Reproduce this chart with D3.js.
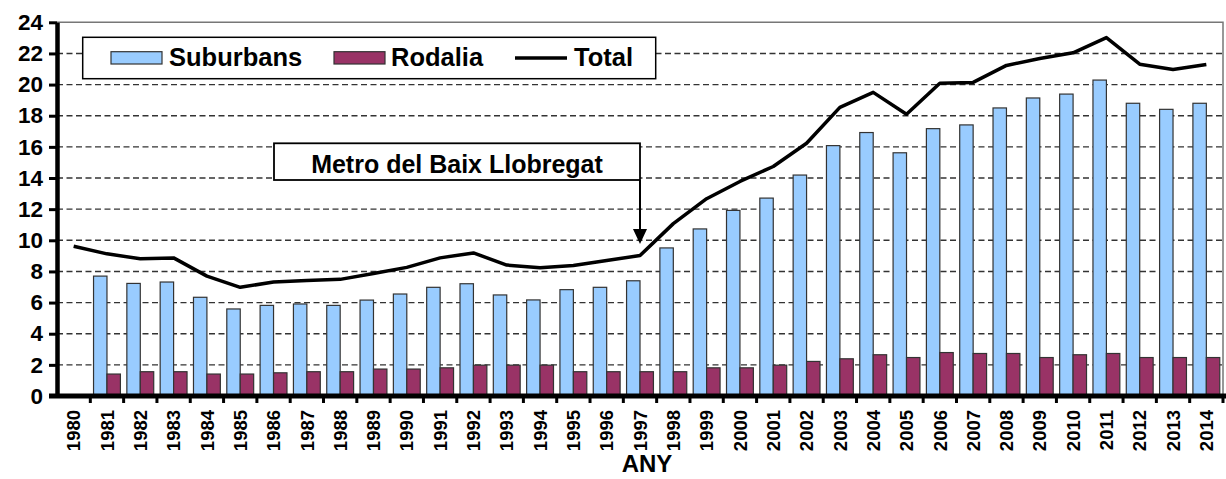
<!DOCTYPE html>
<html>
<head>
<meta charset="utf-8">
<script src="https://cdn.jsdelivr.net/npm/d3@7"></script>
<style>
  body { margin: 0; background: #fff; }
  svg { display: block; font-family: "Liberation Sans", Arial, sans-serif; font-weight: bold; }
</style>
</head>
<body>
<svg id="chart" width="1226" height="479"></svg>
<script>
const years = ["1980","1981","1982","1983","1984","1985","1986","1987","1988","1989",
  "1990","1991","1992","1993","1994","1995","1996","1997","1998","1999",
  "2000","2001","2002","2003","2004","2005","2006","2007","2008","2009",
  "2010","2011","2012","2013","2014"];

const suburbans = [null, 7.70, 7.23, 7.32, 6.34, 5.59, 5.82, 5.91, 5.82, 6.16,
  6.55, 6.98, 7.21, 6.49, 6.17, 6.83, 6.98, 7.40, 9.51, 10.73,
  11.92, 12.71, 14.19, 16.08, 16.92, 15.62, 17.17, 17.41, 18.50, 19.14,
  19.39, 20.29, 18.80, 18.41, 18.80];

const rodalia = [null, 1.41, 1.56, 1.56, 1.41, 1.41, 1.49, 1.56, 1.56, 1.73,
  1.73, 1.81, 1.98, 1.98, 1.98, 1.56, 1.56, 1.56, 1.56, 1.81,
  1.81, 1.98, 2.22, 2.39, 2.65, 2.47, 2.79, 2.73, 2.73, 2.47,
  2.65, 2.73, 2.47, 2.47, 2.47];

const total = [9.62, 9.13, 8.81, 8.87, 7.70, 6.98, 7.32, 7.42, 7.49, 7.87,
  8.26, 8.87, 9.19, 8.41, 8.24, 8.38, 8.70, 9.02, 11.07, 12.67,
  13.78, 14.74, 16.23, 18.54, 19.50, 18.09, 20.08, 20.14, 21.23, 21.68,
  22.04, 23.02, 21.31, 20.97, 21.29];

const yTicks = [0, 2, 4, 6, 8, 10, 12, 14, 16, 18, 20, 22, 24];
const seriesNames = ["Suburbans", "Rodalia"];
const colors = { Suburbans: "#99ccff", Rodalia: "#993366", Total: "#000" };
const annotYear = "1997";
const annotText = "Metro del Baix Llobregat";

const svg = d3.select("#chart");
const width = +svg.attr("width"), height = +svg.attr("height");
const margin = { top: 22.3, right: 3, bottom: 83, left: 57 };

const x = d3.scaleBand().domain(years)
  .range([margin.left, width - margin.right]);
const xs = d3.scaleBand().domain(seriesNames)
  .range([0, x.bandwidth()]).paddingInner(0).paddingOuter(0.24);
const y = d3.scaleLinear().domain([0, 24])
  .range([height - margin.bottom, margin.top]);

const rows = years.map((yr, i) => ({
  year: yr, Suburbans: suburbans[i], Rodalia: rodalia[i], Total: total[i]
}));

// grid
svg.append("g")
  .selectAll("line")
  .data(yTicks.filter(d => d > 0 && d < 24))
  .enter().append("line")
    .attr("x1", margin.left).attr("x2", width - margin.right)
    .attr("y1", d => y(d)).attr("y2", d => y(d))
    .attr("stroke", "#333")
    .attr("stroke-width", 1.4)
    .attr("stroke-dasharray", "6,3.5");

// top + right frame
svg.append("path")
  .attr("d", `M${margin.left},${y(24)}H${width - margin.right}V${y(0)}`)
  .attr("fill", "none")
  .attr("stroke", "#777")
  .attr("stroke-width", 1.5);

// bars
const barData = [];
rows.forEach(r => seriesNames.forEach(s => {
  if (r[s] != null) barData.push({ year: r.year, key: s, value: r[s] });
}));

svg.append("g")
  .selectAll("rect")
  .data(barData)
  .enter().append("rect")
    .attr("x", d => x(d.year) + xs(d.key))
    .attr("width", xs.bandwidth())
    .attr("y", d => y(d.value))
    .attr("height", d => y(0) - y(d.value))
    .attr("fill", d => colors[d.key])
    .attr("stroke", "#333")
    .attr("stroke-width", 1.2);

// total line
const line = d3.line()
  .x(d => x(d.year) + x.bandwidth() / 2)
  .y(d => y(d.Total));

svg.append("path")
  .datum(rows)
  .attr("d", line)
  .attr("fill", "none")
  .attr("stroke", colors.Total)
  .attr("stroke-width", 3.5)
  .attr("stroke-linejoin", "round");

// y axis
const yAxis = svg.append("g")
  .attr("transform", `translate(${margin.left},0)`)
  .call(d3.axisLeft(y).tickValues(yTicks).tickSize(8).tickPadding(6).tickSizeOuter(0));
yAxis.select(".domain").attr("stroke", "#000").attr("stroke-width", 4.5);
yAxis.selectAll(".tick line").attr("stroke", "#000").attr("stroke-width", 3);
yAxis.selectAll(".tick text")
  .attr("font-size", 22.5)
  .attr("font-family", "Liberation Sans, Arial, sans-serif")
  .attr("font-weight", "bold")
  .attr("fill", "#000");

// x axis labels
const xAxis = svg.append("g")
  .attr("transform", `translate(0,${y(0)})`)
  .call(d3.axisBottom(x).tickSize(0).tickPadding(0));
xAxis.select(".domain").remove();
xAxis.selectAll(".tick text")
  .attr("font-size", 18.5)
  .attr("font-family", "Liberation Sans, Arial, sans-serif")
  .attr("font-weight", "bold")
  .attr("fill", "#000")
  .attr("text-anchor", "end")
  .attr("transform", "rotate(-90)")
  .attr("x", -14)
  .attr("y", 0)
  .attr("dy", "0.36em");

// x axis line and boundary ticks
const bounds = years.map(d => x(d)).concat([x(years[years.length - 1]) + x.bandwidth()]);
svg.append("g")
  .selectAll("line")
  .data(bounds.slice(1))
  .enter().append("line")
    .attr("x1", d => d).attr("x2", d => d)
    .attr("y1", y(0)).attr("y2", y(0) + 7)
    .attr("stroke", "#000").attr("stroke-width", 3);
svg.append("line")
  .attr("x1", margin.left - 8).attr("x2", width)
  .attr("y1", y(0)).attr("y2", y(0))
  .attr("stroke", "#000").attr("stroke-width", 5);

// axis title
svg.append("text")
  .attr("x", (margin.left + width - margin.right) / 2 + 7)
  .attr("y", 472)
  .attr("text-anchor", "middle")
  .attr("font-size", 24)
  .text("ANY");

// legend
const lg = svg.append("g");
lg.append("rect")
  .attr("x", 82.7).attr("y", 37.3).attr("width", 573).attr("height", 41.4)
  .attr("fill", "#fff").attr("stroke", "#000").attr("stroke-width", 1.5);

const legendItems = [
  { key: "Suburbans", sx: 111, tx: 169 },
  { key: "Rodalia", sx: 334, tx: 391 },
  { key: "Total", sx: 515, tx: 574 }
];
legendItems.forEach(it => {
  if (it.key === "Total") {
    lg.append("line")
      .attr("x1", it.sx).attr("x2", it.sx + 52)
      .attr("y1", 58).attr("y2", 58)
      .attr("stroke", colors.Total).attr("stroke-width", 3.5);
  } else {
    lg.append("rect")
      .attr("x", it.sx).attr("y", 51.7).attr("width", 51).attr("height", 12.3)
      .attr("fill", colors[it.key]).attr("stroke", "#333").attr("stroke-width", 1.2);
  }
  lg.append("text")
    .attr("x", it.tx).attr("y", 65.7)
    .attr("font-size", 25.5)
    .text(it.key);
});

// annotation
const ax = x(annotYear) + x.bandwidth() / 2;
const an = svg.append("g");
an.append("rect")
  .attr("x", 274).attr("y", 143.3).attr("width", ax - 274).attr("height", 36.7)
  .attr("fill", "#fff").attr("stroke", "#000").attr("stroke-width", 1.8);
an.append("text")
  .attr("x", (274 + ax) / 2).attr("y", 172.5)
  .attr("text-anchor", "middle")
  .attr("font-size", 25)
  .text(annotText);
an.append("line")
  .attr("x1", ax).attr("x2", ax)
  .attr("y1", 180).attr("y2", 232)
  .attr("stroke", "#000").attr("stroke-width", 2);
an.append("path")
  .attr("d", `M${ax - 7},229L${ax + 7},229L${ax},244Z`)
  .attr("fill", "#000");
</script>
</body>
</html>
